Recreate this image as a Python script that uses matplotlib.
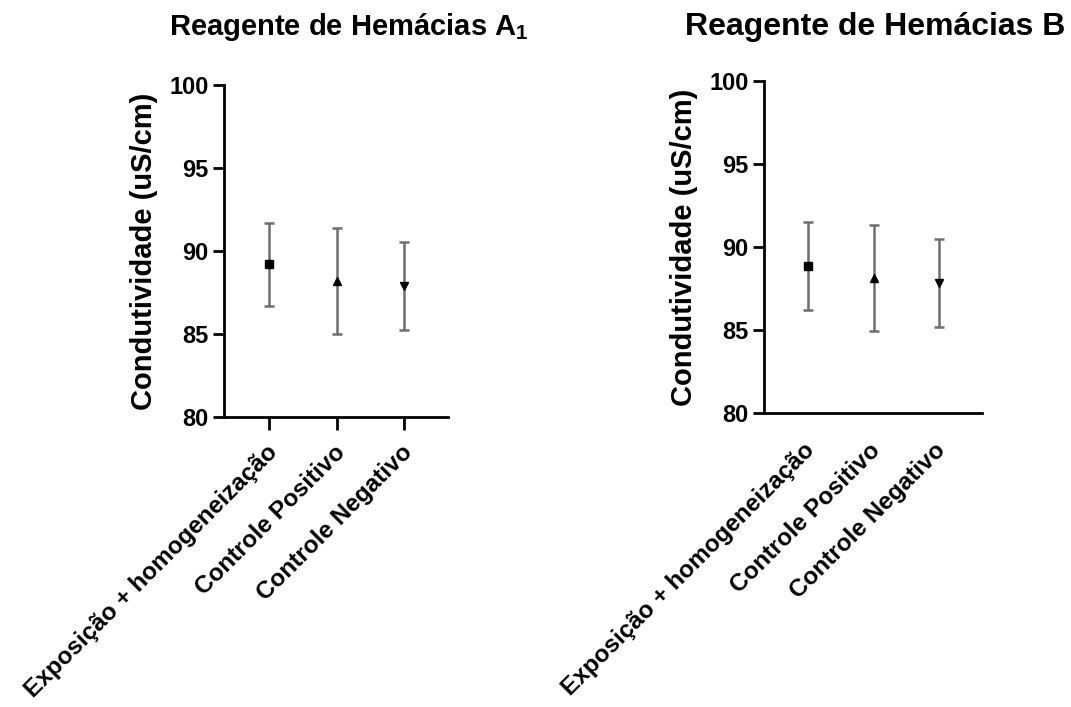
import matplotlib
matplotlib.use("Agg")
import matplotlib.pyplot as plt
import matplotlib.transforms as mtransforms

# data (mean +/- SD)
categories = ["Exposição + homogeneização", "Controle Positivo", "Controle Negativo"]
markers = ["s", "^", "v"]

a1_mean = [89.2, 88.2, 87.9]
a1_sd = [2.5, 3.2, 2.63]

b_mean = [88.85, 88.15, 87.85]
b_sd = [2.63, 3.2, 2.64]

yticks = [80, 85, 90, 95, 100]

plt.rcParams['font.family'] = ['Liberation Sans', 'DejaVu Sans']
plt.rcParams['font.weight'] = 'bold'
plt.rcParams['mathtext.fontset'] = 'custom'
plt.rcParams['mathtext.rm'] = 'Liberation Sans:bold'
plt.rcParams['mathtext.bf'] = 'Liberation Sans:bold'
plt.rcParams['mathtext.default'] = 'bf'

ERR_COLOR = '#6e6e6e'


def draw_panel(fig, ax, means, sds, show_xticks=True, label_shift=(0, 0)):
    xs = list(range(len(categories)))
    for x, m, s, mk in zip(xs, means, sds, markers):
        ax.errorbar(x, m, yerr=s, fmt='none', ecolor=ERR_COLOR, elinewidth=1.8,
                    capsize=3.5, capthick=1.8, zorder=2)
        ax.plot(x, m, marker=mk, color='black', markersize=6, linestyle='none', zorder=3)

    ax.set_xlim(-0.675, 2.65)
    ax.set_ylim(80, 100)
    ax.set_yticks(yticks)
    ax.set_yticklabels([str(t) for t in yticks], fontsize=17, fontweight='bold')
    ax.set_xticks(xs)
    ax.set_xticklabels(categories, rotation=45, ha='right', va='center',
                       rotation_mode='anchor', fontsize=17.5, fontweight='bold')
    ax.set_ylabel("Condutividade (uS/cm)", fontsize=21, fontweight='bold', labelpad=8)

    for side in ['top', 'right']:
        ax.spines[side].set_visible(False)
    for side in ['left', 'bottom']:
        ax.spines[side].set_linewidth(2.0)
    ax.tick_params(axis='y', length=8, width=2.0, pad=3)
    if show_xticks:
        ax.tick_params(axis='x', length=9, width=2.0, pad=14)
    else:
        ax.tick_params(axis='x', length=0, pad=23)

    # small nudge of the rotated category labels
    offset = mtransforms.ScaledTranslation(label_shift[0] / 100, label_shift[1] / 100,
                                           fig.dpi_scale_trans)
    for lbl in ax.get_xticklabels():
        lbl.set_transform(lbl.get_transform() + offset)


fig = plt.figure(figsize=(10.71, 7.07), dpi=100)

ax1 = fig.add_axes([224 / 1071, 1 - 417 / 707, 224 / 1071, 332 / 707])
draw_panel(fig, ax1, a1_mean, a1_sd, show_xticks=True, label_shift=(5, 0))

ax2 = fig.add_axes([764 / 1071, 1 - 413 / 707, 218 / 1071, 332 / 707])
draw_panel(fig, ax2, b_mean, b_sd, show_xticks=False, label_shift=(3, -2))

fig.text(349 / 1071, 1 - 27 / 707, "Reagente de Hemácias A$_1$", ha='center', va='center',
         fontsize=21, fontweight='bold')
fig.text(875 / 1071, 1 - 27 / 707, "Reagente de Hemácias B", ha='center', va='center',
         fontsize=23, fontweight='bold')

fig.savefig("out.png", dpi=100, facecolor='white')
